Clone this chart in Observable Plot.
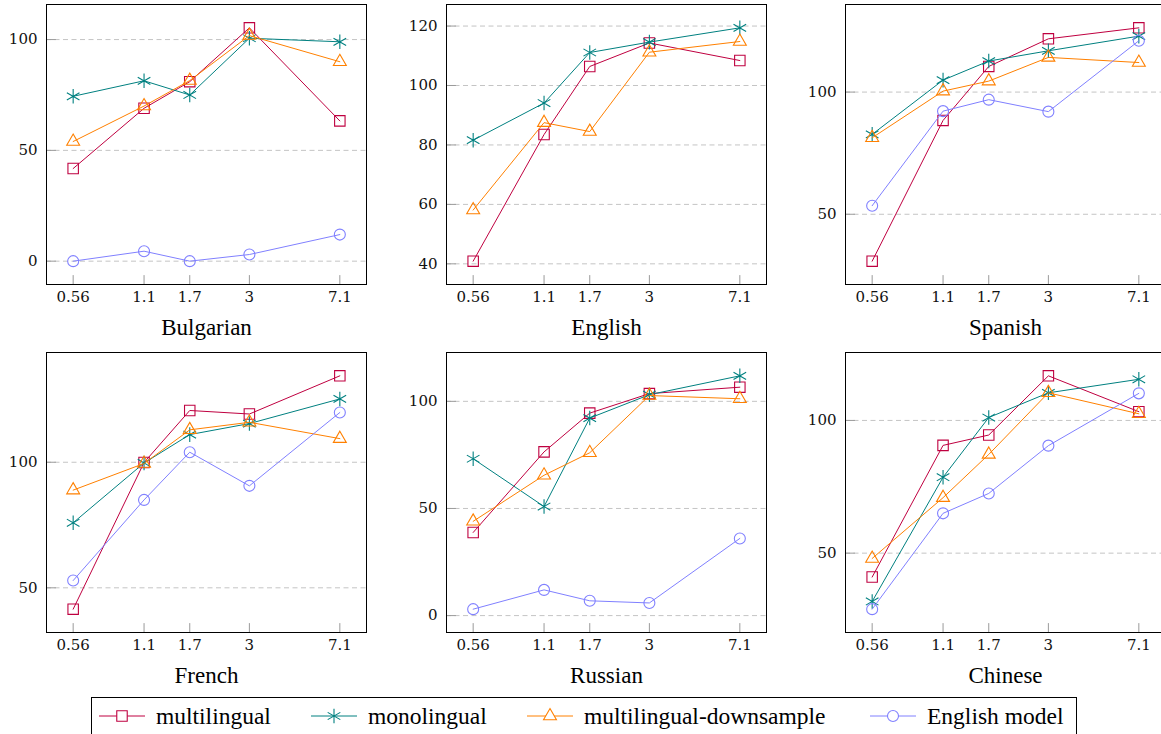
<!DOCTYPE html>
<html><head><meta charset="utf-8">
<script src="https://cdn.jsdelivr.net/npm/d3@7"></script>
<script src="https://cdn.jsdelivr.net/npm/@observablehq/plot@0.6"></script>
<style>
html,body{margin:0;padding:0;background:#fff;width:1161px;height:734px;overflow:hidden;}
#root{position:relative;width:1161px;height:734px;overflow:hidden;}
.panel{position:absolute;width:370px;height:340px;}
.panel svg{max-width:none !important;width:370px !important;height:340px !important;}
.panel svg g[aria-label="x-axis tick label"] text,
.panel svg g[aria-label="y-axis tick label"] text{font-family:"DejaVu Serif","Liberation Serif",serif !important;}
#legend{position:absolute;left:91px;top:697px;width:986px;height:40px;border:1px solid #000;box-sizing:border-box;font-family:"Liberation Serif",serif;font-size:23.5px;color:#000;}
.item{position:absolute;top:0;height:36px;display:flex;align-items:center;white-space:nowrap;}
.item svg{margin-right:11px;display:block;}
</style></head><body><div id="root"></div>
<script>
// ---- data ----
const sizes = [0.56, 1.1, 1.7, 3, 7.1];
const languages = ["Bulgarian", "English", "Spanish", "French", "Russian", "Chinese"];
const seriesNames = ["multilingual", "monolingual", "multilingual-downsample", "English model"];
// one row per language, in the order of `languages`
const multilingual = [
  [41.8, 69, 81, 105.3, 63.3],
  [40.9, 83.5, 106.4, 114.3, 108.4],
  [30.8, 88.4, 110.5, 121.8, 126.3],
  [41.5, 99.9, 120.6, 119.2, 134.4],
  [38.8, 76.4, 94.5, 103.6, 106.6],
  [41, 90.6, 94.5, 116.8, 103.3]
];
const monolingual = [
  [74.4, 81.4, 75, 100.6, 99],
  [81.6, 94.1, 111.1, 114.6, 119.4],
  [82.7, 104.9, 112.7, 116.9, 122.9],
  [75.9, 99.7, 111, 115.4, 125.2],
  [73.2, 50.9, 92.2, 103.1, 111.9],
  [31.8, 78.6, 101.1, 110.4, 115.5]
];
const downsample = [
  [54, 70, 81.5, 101.8, 90],
  [58.1, 87.5, 84.5, 111.2, 114.8],
  [81.3, 100.4, 104.5, 114.2, 112.1],
  [88.9, 99.5, 112.9, 115.9, 109.4],
  [44, 65.5, 76, 102.7, 101.2],
  [48, 70.9, 87.2, 110.4, 102.5]
];
const englishModel = [
  [0, 4.5, 0, 3, 12],
  null,
  [53.5, 92.2, 96.9, 92, 121],
  [52.9, 85, 104, 90.6, 119.8],
  [3, 12, 6.9, 5.9, 36],
  [28.9, 65, 72.5, 90.5, 110.2]
];
const yTickValues = [
  [0, 50, 100],
  [40, 60, 80, 100, 120],
  [50, 100],
  [50, 100],
  [0, 50, 100],
  [50, 100]
];

// ---- style ----
const seriesValues = [multilingual, monolingual, downsample, englishModel];
const colors = ["#BF0040", "#008080", "#FF8000", "#8080FF"];
const symbols = ["square", "asterisk", "triangle", "circle"];
const radii = [5.9, 6.9, 4.8, 5.5];
const colLeft = [0, 399.7, 799];
const rowTop = [0, 347.5];
const tickShape = {draw(context, l) { context.moveTo(0, 0); context.lineTo(0, -l); }};

const root = document.getElementById("root");

languages.forEach((lang, i) => {
  const rows = [];
  seriesValues.forEach((vals, s) => {
    const v = vals[i];
    if (!v) return;
    sizes.forEach((x, j) => rows.push({series: seriesNames[s], x, y: v[j]}));
  });
  const [ymin, ymax] = d3.extent(rows, d => d.y);
  const ypad = (ymax - ymin) * 0.1;
  const [xmin, xmax] = d3.extent(sizes);
  const lpad = Math.log(xmax / xmin) * 0.1;
  const yTicks = yTickValues[i];

  const marks = [
    Plot.ruleY(yTicks, {stroke: "#c4c4c4", strokeWidth: 1, strokeDasharray: "5,3.5"}),
    Plot.vectorX(sizes, {frameAnchor: "bottom", rotate: 0, length: 9, anchor: "start", shape: tickShape, stroke: "#9a9a9a", strokeWidth: 1}),
    Plot.vectorY(yTicks, {frameAnchor: "left", rotate: 90, length: 9, anchor: "start", shape: tickShape, stroke: "#9a9a9a", strokeWidth: 1}),
    Plot.axisX({ticks: sizes, tickFormat: d => String(d), tickSize: 0, tickPadding: 7, label: null}),
    Plot.axisY({ticks: yTicks, tickFormat: d => String(d), tickSize: 0, tickPadding: 9, label: null})
  ];
  seriesNames.forEach((name, s) => {
    const data = rows.filter(d => d.series === name);
    if (!data.length) return;
    marks.push(Plot.line(data, {x: "x", y: "y", stroke: colors[s], strokeWidth: 1}));
    marks.push(Plot.dot(data, {x: "x", y: "y", symbol: () => symbols[s], r: radii[s], stroke: colors[s], fill: "none", strokeWidth: 1.1}));
  });
  marks.push(Plot.frame({stroke: "#000", strokeWidth: 1}));
  marks.push(Plot.text([lang], {text: d => d, frameAnchor: "bottom", dy: 43, lineAnchor: "middle", fontSize: 23, fontFamily: "Liberation Serif", fill: "#000"}));

  const chart = Plot.plot({
    width: 370,
    height: 340,
    marginLeft: 46,
    marginRight: 4,
    marginTop: 4,
    marginBottom: 56,
    style: {fontFamily: "DejaVu Serif", fontSize: "15px", color: "#111", background: "transparent", overflow: "visible"},
    x: {type: "log", domain: [xmin / Math.exp(lpad), xmax * Math.exp(lpad)]},
    y: {domain: [ymin - ypad, ymax + ypad]},
    symbol: {type: "identity"},
    marks
  });
  const div = document.createElement("div");
  div.className = "panel";
  div.style.left = colLeft[i % 3] + "px";
  div.style.top = rowTop[Math.floor(i / 3)] + "px";
  div.appendChild(chart);
  root.appendChild(div);
});

// ---- legend ----
const legend = document.createElement("div");
legend.id = "legend";
const itemLefts = [7, 219, 435, 778];
seriesNames.forEach((name, s) => {
  const item = document.createElement("div");
  item.className = "item";
  item.style.left = itemLefts[s] + "px";
  const svg = d3.create("svg").attr("width", 46).attr("height", 20);
  svg.append("line").attr("x1", 0).attr("x2", 46).attr("y1", 10).attr("y2", 10).attr("stroke", colors[s]).attr("stroke-width", 1);
  const symMap = {square: d3.symbolSquare, asterisk: d3.symbolAsterisk, triangle: d3.symbolTriangle, circle: d3.symbolCircle};
  svg.append("path")
    .attr("d", d3.symbol(symMap[symbols[s]], Math.PI * radii[s] * radii[s])())
    .attr("transform", "translate(23,10)")
    .attr("fill", "white").attr("stroke", colors[s]).attr("stroke-width", 1.1);
  item.appendChild(svg.node());
  const t = document.createElement("span");
  t.textContent = name;
  item.appendChild(t);
  legend.appendChild(item);
});
root.appendChild(legend);
</script></body></html>
